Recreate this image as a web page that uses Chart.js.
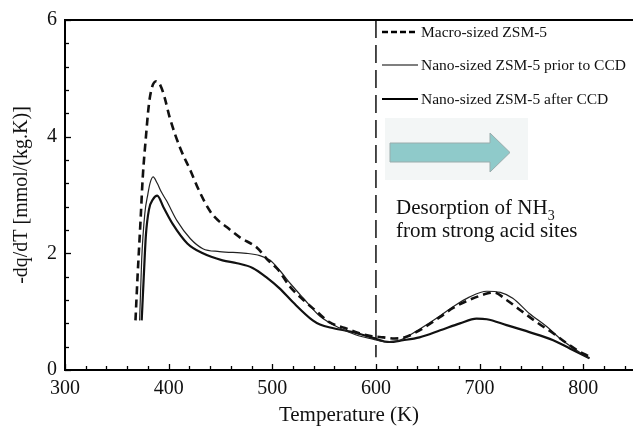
<!DOCTYPE html>
<html lang="en">
<head>
<meta charset="UTF-8">
<title>NH3-TPD profiles</title>
<script src="https://cdn.jsdelivr.net/npm/chart.js"></script>
<style>
  body { margin: 0; background: #fff; }
  #wrap { width: 633px; height: 426px; position: relative; }
</style>
</head>
<body>
<div id="wrap"><canvas id="tpdChart"></canvas></div>
<script>
// values
const macroT = [368, 370, 373, 375, 378, 381, 384, 388, 392, 396, 401, 411, 421, 430, 440, 448, 456, 469, 485, 496, 506, 517, 530, 543, 555, 570, 584, 596, 607, 618, 628, 642, 662, 674, 690, 707, 714, 726, 739, 755, 771, 784, 795, 806];
const macroQ = [0.85, 1.6, 2.6, 3.3, 3.98, 4.56, 4.85, 4.95, 4.88, 4.68, 4.33, 3.81, 3.42, 3.05, 2.72, 2.56, 2.45, 2.27, 2.1, 1.88, 1.71, 1.43, 1.2, 1.0, 0.82, 0.72, 0.63, 0.58, 0.56, 0.54, 0.56, 0.68, 0.91, 1.06, 1.2, 1.31, 1.33, 1.2, 1.03, 0.82, 0.63, 0.46, 0.33, 0.23];

const priorT = [372, 374, 377, 380, 382, 385, 389, 393, 398, 408, 421, 433, 449, 475, 488, 498, 507, 518, 530, 546, 565, 581, 597, 610, 623, 642, 662, 674, 690, 707, 720, 732, 748, 765, 777, 790, 800, 806];
const priorQ = [0.85, 1.9, 2.68, 3.02, 3.2, 3.31, 3.2, 3.05, 2.9, 2.56, 2.25, 2.08, 2.03, 2.0, 1.96, 1.88, 1.71, 1.47, 1.23, 0.92, 0.72, 0.6, 0.53, 0.48, 0.51, 0.7, 0.93, 1.08, 1.25, 1.35, 1.33, 1.23, 0.97, 0.74, 0.55, 0.38, 0.26, 0.2];

const afterT = [374, 376, 378, 381, 385, 389, 395, 404, 418, 433, 452, 466, 481, 495, 507, 520, 539, 546, 558, 578, 597, 613, 626, 642, 662, 681, 697, 707, 726, 748, 771, 787, 806];
const afterQ = [0.85, 1.6, 2.3, 2.75, 2.93, 2.99, 2.79, 2.5, 2.17, 2.0, 1.88, 1.83, 1.75, 1.58, 1.4, 1.16, 0.85, 0.78, 0.72, 0.65, 0.55, 0.48, 0.51, 0.56, 0.68, 0.8, 0.88, 0.87, 0.77, 0.65, 0.51, 0.37, 0.2];

const dividerT = [600, 600];
const dividerQ = [6, 0.22];

const seriesNames = ['Macro-sized ZSM-5', 'Nano-sized ZSM-5 prior to CCD', 'Nano-sized ZSM-5 after CCD'];
const xLabels = [300, 400, 500, 600, 700, 800];
const yLabels = [0, 2, 4, 6];

// tick marks: every 20 K and every 0.4 units
const xTickVals = [];
for (let v = 300; v <= 840; v += 20) xTickVals.push(v);
const yTickVals = [];
for (let k = 0; k <= 15; k++) yTickVals.push(Math.round(k * 4) / 10);

const toPts = (xs, ys) => xs.map((x, i) => ({ x: x, y: ys[i] }));
const serif = 'Liberation Serif, Times New Roman, serif';

const isMajorY = v => yLabels.some(l => Math.abs(l - v) < 1e-6);

const decor = {
  id: 'decor',
  afterDraw(chart) {
    const { ctx, chartArea: a, scales: { x, y } } = chart;
    ctx.save();
    ctx.strokeStyle = '#000';

    // top frame line
    ctx.lineWidth = 2;
    ctx.beginPath();
    ctx.moveTo(a.left - 1, a.top);
    ctx.lineTo(chart.width, a.top);
    ctx.stroke();

    // inward tick marks
    ctx.lineWidth = 1.3;
    xTickVals.forEach(v => {
      const px = Math.round(x.getPixelForValue(v)) + 0.5;
      const len = xLabels.includes(v) ? 6 : 4;
      ctx.beginPath();
      ctx.moveTo(px, a.bottom);
      ctx.lineTo(px, a.bottom - len);
      ctx.stroke();
    });
    yTickVals.forEach(v => {
      const py = Math.round(y.getPixelForValue(v)) + 0.5;
      const len = isMajorY(v) ? 6 : 4;
      ctx.beginPath();
      ctx.moveTo(a.left, py);
      ctx.lineTo(a.left + len, py);
      ctx.stroke();
    });

    // legend
    const rows = [
      { y: 32, dash: [6, 3], w: 2.6 },
      { y: 65, dash: [], w: 1.1 },
      { y: 99, dash: [], w: 2.2 }
    ];
    ctx.fillStyle = '#111';
    ctx.font = '15.5px ' + serif;
    ctx.textBaseline = 'middle';
    rows.forEach((r, i) => {
      ctx.setLineDash(r.dash);
      ctx.lineWidth = r.w;
      ctx.beginPath();
      ctx.moveTo(382, r.y);
      ctx.lineTo(418, r.y);
      ctx.stroke();
      ctx.setLineDash([]);
      ctx.fillText(seriesNames[i], 421, r.y + 1);
    });

    // arrow annotation
    ctx.fillStyle = '#f3f6f6';
    ctx.fillRect(385, 118, 143, 62);
    ctx.beginPath();
    ctx.moveTo(390, 143);
    ctx.lineTo(490, 143);
    ctx.lineTo(490, 133);
    ctx.lineTo(510, 152.5);
    ctx.lineTo(490, 172);
    ctx.lineTo(490, 162);
    ctx.lineTo(390, 162);
    ctx.closePath();
    ctx.fillStyle = '#8fcaca';
    ctx.fill();
    ctx.lineWidth = 1;
    ctx.strokeStyle = '#9aacac';
    ctx.stroke();

    // annotation text
    ctx.fillStyle = '#111';
    ctx.textBaseline = 'alphabetic';
    ctx.font = '21px ' + serif;
    const line1 = 'Desorption of NH';
    ctx.fillText(line1, 396, 214);
    const w1 = ctx.measureText(line1).width;
    ctx.font = '14px ' + serif;
    ctx.fillText('3', 396 + w1, 220);
    ctx.font = '21px ' + serif;
    ctx.fillText('from strong acid sites', 396, 237);
    ctx.restore();
  }
};

new Chart(document.getElementById('tpdChart'), {
  type: 'line',
  data: {
    datasets: [
      {
        label: seriesNames[0],
        data: toPts(macroT, macroQ),
        borderColor: '#111',
        borderWidth: 2.6,
        borderDash: [8, 5],
        cubicInterpolationMode: 'monotone'
      },
      {
        label: seriesNames[1],
        data: toPts(priorT, priorQ),
        borderColor: '#222',
        borderWidth: 1.2,
        cubicInterpolationMode: 'monotone'
      },
      {
        label: seriesNames[2],
        data: toPts(afterT, afterQ),
        borderColor: '#111',
        borderWidth: 2.2,
        cubicInterpolationMode: 'monotone'
      },
      {
        label: 'divider',
        data: toPts(dividerT, dividerQ),
        borderColor: '#111',
        borderWidth: 1.5,
        borderDash: [18, 7]
      }
    ]
  },
  options: {
    responsive: true,
    maintainAspectRatio: false,
    animation: false,
    elements: { point: { radius: 0 } },
    layout: { padding: { top: 19, right: 0, left: 0, bottom: 0 } },
    plugins: { legend: { display: false }, tooltip: { enabled: false } },
    scales: {
      x: {
        type: 'linear',
        min: 300,
        max: 848,
        afterBuildTicks: s => { s.ticks = xTickVals.map(v => ({ value: v })); },
        afterFit: s => { s.height = 56; },
        grid: { display: false, drawTicks: false },
        border: { display: true, color: '#000', width: 2 },
        ticks: {
          autoSkip: false,
          maxRotation: 0,
          padding: 7,
          color: '#111',
          font: { family: serif, size: 20 },
          callback: v => xLabels.includes(v) ? String(v) : ''
        },
        title: {
          display: true,
          text: 'Temperature (K)',
          color: '#111',
          font: { family: serif, size: 21, lineHeight: 1 },
          padding: { top: 0, bottom: 0 }
        }
      },
      y: {
        min: 0,
        max: 6,
        afterBuildTicks: s => { s.ticks = yTickVals.map(v => ({ value: v })); },
        afterFit: s => { s.width = 65; },
        grid: { display: false, drawTicks: false },
        border: { display: true, color: '#000', width: 2 },
        ticks: {
          autoSkip: false,
          padding: 8,
          color: '#111',
          font: { family: serif, size: 20 },
          callback: v => isMajorY(v) ? String(Math.round(v)) : ''
        },
        title: {
          display: true,
          text: '-dq/dT [mmol/(kg.K)]',
          color: '#111',
          font: { family: serif, size: 20, lineHeight: 1.2 },
          padding: { top: 10, bottom: 0 }
        }
      }
    }
  },
  plugins: [decor]
});
</script>
</body>
</html>
